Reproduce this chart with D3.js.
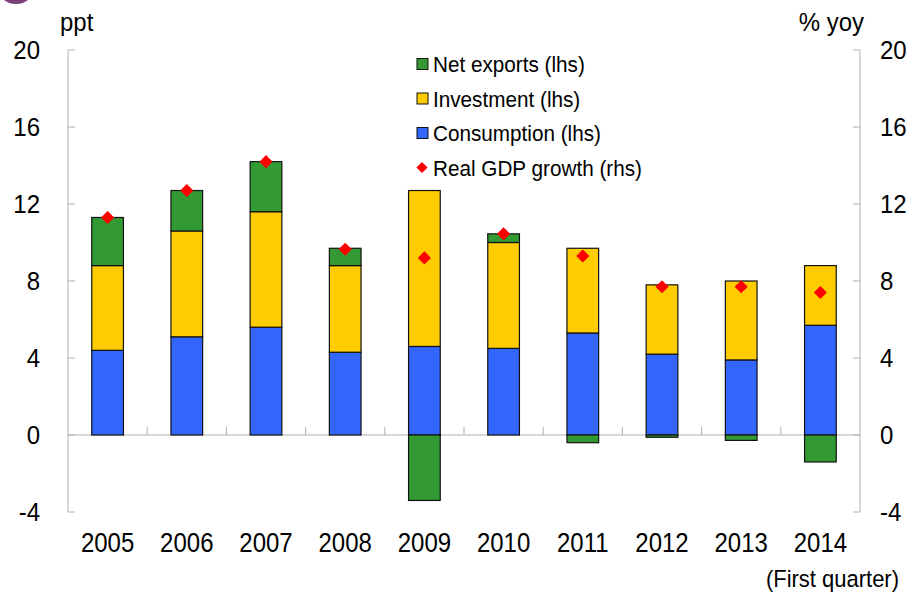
<!DOCTYPE html>
<html>
<head>
<meta charset="utf-8">
<script src="https://cdn.jsdelivr.net/npm/d3@7"></script>
<style>
body { margin: 0; background: #fff; }
text { font-family: Arial, "Liberation Sans", sans-serif; fill: #000; }
</style>
</head>
<body>
<div id="chart"></div>
<script>
let width = 916, height = 597;

// data
let years = ["2005", "2006", "2007", "2008", "2009", "2010", "2011", "2012", "2013", "2014"];
let consumption = [4.4, 5.1, 5.6, 4.3, 4.6, 4.5, 5.3, 4.2, 3.9, 5.7];
let investment = [4.4, 5.5, 6.0, 4.5, 8.1, 5.5, 4.4, 3.6, 4.1, 3.1];
let netExports = [2.5, 2.1, 2.6, 0.9, -3.4, 0.45, -0.4, -0.12, -0.28, -1.4];
let gdp = [11.3, 12.7, 14.2, 9.65, 9.2, 10.45, 9.3, 7.7, 7.7, 7.4];
let yTicks = [-4, 0, 4, 8, 12, 16, 20];

let colors = { nx: "#339933", inv: "#ffcc00", cons: "#3366ff", gdp: "#ff0000" };

let svg = d3.select("#chart").append("svg")
  .attr("width", width)
  .attr("height", height);

// cut-off logo in the corner
svg.append("ellipse")
  .attr("cx", 16).attr("cy", -8)
  .attr("rx", 16).attr("ry", 12)
  .attr("fill", "#7a3f7c");

let left = 68, right = 860;

let x = d3.scaleBand()
  .domain(years)
  .range([left, right])
  .paddingInner(0.6)
  .paddingOuter(0.3);

let y = d3.scaleLinear().domain([-4, 20]).range([512, 50]);
let y2 = d3.scaleLinear().domain([-4, 20]).range([512, 50]);

// text a bit taller than wide, like the original
function label(g, px, py, str, size, stretch, anchor) {
  return g.append("text")
    .attr("transform", "translate(" + px + "," + py + ") scale(1," + stretch + ")")
    .attr("text-anchor", anchor || "start")
    .style("font-size", size + "px")
    .text(str);
}

// axes lines
let axisColor = "#b0b0b0";
svg.append("line").attr("x1", left).attr("x2", left).attr("y1", y(20)).attr("y2", y(-4))
  .attr("stroke", axisColor);
svg.append("line").attr("x1", right).attr("x2", right).attr("y1", y(20)).attr("y2", y(-4))
  .attr("stroke", axisColor);
svg.append("line").attr("x1", left).attr("x2", right).attr("y1", y(0)).attr("y2", y(0))
  .attr("stroke", axisColor);

yTicks.forEach(t => {
  svg.append("line").attr("x1", left).attr("x2", left + 7).attr("y1", y(t)).attr("y2", y(t))
    .attr("stroke", axisColor);
  svg.append("line").attr("x1", right - 7).attr("x2", right).attr("y1", y2(t)).attr("y2", y2(t))
    .attr("stroke", axisColor);
  label(svg, 40, y(t) + 9, t, 24, 1.06, "end");
  label(svg, 880, y2(t) + 9, t, 24, 1.06, "start");
});

// category ticks on zero line
let step = x.step();
for (let i = 1; i < years.length; i++) {
  let xx = left + step * i;
  svg.append("line").attr("x1", xx).attr("x2", xx).attr("y1", y(0) - 8).attr("y2", y(0))
    .attr("stroke", axisColor);
}

// stacked bars
let rows = years.map((yr, i) => ({ year: yr, cons: consumption[i], inv: investment[i], nx: netExports[i] }));

let bars = svg.append("g");
rows.forEach(d => {
  let segs = [];
  segs.push({ key: "cons", y0: 0, y1: d.cons });
  segs.push({ key: "inv", y0: d.cons, y1: d.cons + d.inv });
  if (d.nx >= 0) segs.push({ key: "nx", y0: d.cons + d.inv, y1: d.cons + d.inv + d.nx });
  else segs.push({ key: "nx", y0: d.nx, y1: 0 });
  segs.forEach(s => {
    bars.append("rect")
      .attr("x", x(d.year))
      .attr("width", x.bandwidth())
      .attr("y", y(s.y1))
      .attr("height", y(s.y0) - y(s.y1))
      .attr("fill", colors[s.key])
      .attr("stroke", "#111")
      .attr("stroke-width", 1.2);
  });
});

// GDP diamonds
svg.append("g").selectAll("path")
  .data(gdp)
  .enter().append("path")
  .attr("d", d3.symbol().type(d3.symbolDiamond2).size(110))
  .attr("transform", (d, i) => "translate(" + (x(years[i]) + x.bandwidth() / 2) + "," + y2(d) + ")")
  .attr("fill", colors.gdp);

// year labels
years.forEach(d => {
  label(svg, x(d) + x.bandwidth() / 2, 552, d, 24, 1.12, "middle");
});

label(svg, 899, 587, "(First quarter)", 22, 1.08, "end");
label(svg, 60, 31, "ppt", 24, 1.08, "start");
label(svg, 864, 31, "% yoy", 24, 1.08, "end");

// legend
let legendItems = [
  { label: "Net exports (lhs)", key: "nx" },
  { label: "Investment (lhs)", key: "inv" },
  { label: "Consumption (lhs)", key: "cons" },
  { label: "Real GDP growth (rhs)", key: "gdp" }
];
let legend = svg.append("g");
legendItems.forEach((it, i) => {
  let cy = 64 + i * 34.5;
  if (it.key == "gdp") {
    legend.append("path")
      .attr("d", d3.symbol().type(d3.symbolDiamond2).size(80))
      .attr("transform", "translate(422," + cy + ")")
      .attr("fill", colors.gdp);
  } else {
    legend.append("rect")
      .attr("x", 417).attr("y", cy - 5.5)
      .attr("width", 11).attr("height", 11)
      .attr("fill", colors[it.key])
      .attr("stroke", "#111").attr("stroke-width", 1);
  }
  label(legend, 433, cy + 8, it.label, 20.7, 1.06, "start");
});
</script>
</body>
</html>
